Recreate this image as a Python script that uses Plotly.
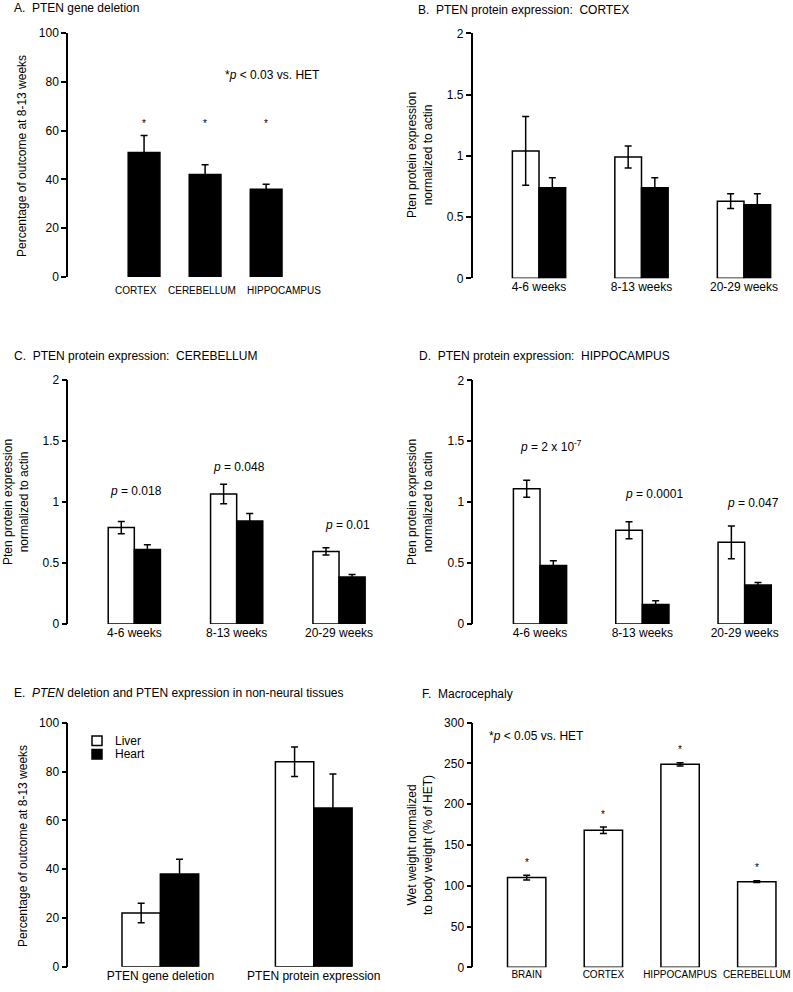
import plotly.graph_objects as go

# ---------------- data ----------------
# A. PTEN gene deletion
a_regions = ["CORTEX", "CEREBELLUM", "HIPPOCAMPUS"]
a_values = [51, 42, 36]
a_errors = [7, 4, 2]

# B-D weeks
weeks = ["4-6 weeks", "8-13 weeks", "20-29 weeks"]

# B. cortex
b_white = [1.04, 0.99, 0.63]
b_white_err = [0.28, 0.09, 0.06]
b_black = [0.74, 0.74, 0.60]
b_black_err = [0.08, 0.08, 0.09]

# C. cerebellum
c_white = [0.79, 1.065, 0.595]
c_white_err = [0.05, 0.08, 0.03]
c_black = [0.61, 0.845, 0.385]
c_black_err = [0.04, 0.06, 0.02]
c_pvals = ["0.018", "0.048", "0.01"]

# D. hippocampus
d_white = [1.11, 0.77, 0.67]
d_white_err = [0.07, 0.07, 0.135]
d_black = [0.48, 0.16, 0.32]
d_black_err = [0.04, 0.03, 0.02]
d_pvals = ["2 x 10<sup>-7</sup>", "0.0001", "0.047"]

# E. non-neural tissues
e_measures = ["PTEN gene deletion", "PTEN protein expression"]
e_liver = [22, 84]
e_liver_err = [4, 6]
e_heart = [38, 65]
e_heart_err = [6, 14]

# F. macrocephaly
f_regions = ["BRAIN", "CORTEX", "HIPPOCAMPUS", "CEREBELLUM"]
f_values = [110, 168, 249, 105]
f_errors = [3, 4, 2, 1]

# ---------------- layout helpers ----------------
W, H = 793, 992
FONT = "Liberation Sans, Arial, Helvetica, sans-serif"
NB = "\u00a0"


def fx(px):
    return px / W


def fy(py):
    return 1 - py / H


fig = go.Figure()


def err(arr):
    return dict(type="data", array=arr, visible=True, color="black",
                thickness=1.5, width=3.5)


def add_bar(x, y, e, xa, ya, width, offset, fill, name=None):
    fig.add_trace(go.Bar(
        x=x, y=y, error_y=err(e), xaxis=xa, yaxis=ya,
        width=width, offset=offset,
        marker=dict(color=fill, line=dict(color="black", width=1.5)),
        name=name, showlegend=False, hoverinfo="x+y"))


# A
add_bar(a_regions, a_values, a_errors, "x", "y", 0.52, -0.26, "black")
# B
add_bar(weeks, b_white, b_white_err, "x2", "y2", 0.26, -0.26, "white")
add_bar(weeks, b_black, b_black_err, "x2", "y2", 0.26, 0.0, "black")
# C
add_bar(weeks, c_white, c_white_err, "x3", "y3", 0.255, -0.255, "white")
add_bar(weeks, c_black, c_black_err, "x3", "y3", 0.255, 0.0, "black")
# D
add_bar(weeks, d_white, d_white_err, "x4", "y4", 0.26, -0.26, "white")
add_bar(weeks, d_black, d_black_err, "x4", "y4", 0.26, 0.0, "black")
# E
add_bar(e_measures, e_liver, e_liver_err, "x5", "y5", 0.25, -0.25, "white", "Liver")
add_bar(e_measures, e_heart, e_heart_err, "x5", "y5", 0.25, 0.0, "black", "Heart")
# F
add_bar(f_regions, f_values, f_errors, "x6", "y6", 0.5, -0.25, "white")

# panel geometry: (x0, x1, ytop, ybottom) in pixels, x range, y range, dtick, xtick size
panels = [
    (68, 340, 33, 277, [-1.246, 3.21], [0, 100], 20, 10),
    (472.7, 790, 33.3, 278.3, [-0.647, 2.449], [0, 2], 0.5, 12),
    (68.3, 390, 380, 624, [-0.645, 2.498], [0, 2], 0.5, 12),
    (473.3, 790, 380.3, 624, [-0.652, 2.443], [0, 2], 0.5, 12),
    (68.3, 390, 722.7, 966.7, [-0.6, 1.497], [0, 100], 20, 12),
    (473.3, 790, 722.7, 967.3, [-0.696, 3.433], [0, 300], 50, 10),
]

layout = dict(
    width=W, height=H, margin=dict(l=0, r=0, t=0, b=0, autoexpand=False),
    paper_bgcolor="white", plot_bgcolor="white",
    font=dict(family=FONT, size=12, color="black"),
    barmode="overlay",
    showlegend=False,
)

for i, (x0, x1, yt, yb, xr, yr, dt, xts) in enumerate(panels, start=1):
    s = "" if i == 1 else str(i)
    layout["xaxis" + s] = dict(
        domain=[fx(x0), fx(x1)], anchor="y" + s, range=xr,
        showline=False, ticks="", showgrid=False, zeroline=False,
        tickfont=dict(size=xts, color="black"), tickangle=0,
        automargin=False, fixedrange=True, type="category",
        ticklabeloverflow="allow")
    layout["yaxis" + s] = dict(
        domain=[fy(yb), fy(yt)], anchor="x" + s, range=yr, dtick=dt,
        showline=True, linecolor="black", linewidth=1.5,
        ticks="outside", ticklen=5, tickwidth=1.5, tickcolor="black",
        showgrid=False, zeroline=False, tickfont=dict(size=12, color="black"),
        automargin=False, fixedrange=True)

# panel A: category names are set as annotations (slightly staggered as in the original)
layout["xaxis"]["showticklabels"] = False

ann = []


def text_at(text, px, py, xanchor="left", size=12, angle=0):
    ann.append(dict(text=text, x=fx(px), y=fy(py), xref="paper", yref="paper",
                    xanchor=xanchor, yanchor="middle", showarrow=False,
                    textangle=angle, font=dict(size=size, color="black")))


# panel titles
text_at("A." + NB + NB + "PTEN gene deletion", 12, 8)
text_at("B." + NB + NB + "PTEN protein expression:" + NB + NB + "CORTEX", 416, 10)
text_at("C." + NB + NB + "PTEN protein expression:" + NB + NB + "CEREBELLUM", 12, 356)
text_at("D." + NB + NB + "PTEN protein expression:" + NB + NB + "HIPPOCAMPUS", 417, 356)
text_at("E." + NB + NB + "<i>PTEN</i> deletion and PTEN expression in non-neural tissues", 12, 693)
text_at("F." + NB + NB + "Macrocephaly", 420, 694)

# y axis titles
text_at("Percentage of outcome at 8-13 weeks", 22, 156, "center", 12, -90)
text_at("Pten protein expression<br>normalized to actin", 420, 155, "center", 12, -90)
text_at("Pten protein expression<br>normalized to actin", 16, 502, "center", 12, -90)
text_at("Pten protein expression<br>normalized to actin", 420, 502, "center", 12, -90)
text_at("Percentage of outcome at 8-13 weeks", 23, 846, "center", 12, -90)
text_at("Wet weight normalized<br>to body weight (% of HET)", 420, 845, "center", 12, -90)

# significance notes
text_at("*<i>p</i> &lt; 0.03 vs. HET", 223, 75)
text_at("*<i>p</i> &lt; 0.05 vs. HET", 487, 736)

# legend for E (Liver / Heart)
text_at("Liver", 113, 741)
text_at("Heart", 113, 754)
shapes = [
    dict(type="rect", xref="paper", yref="paper",
         x0=fx(92), x1=fx(102), y0=fy(745.5), y1=fy(736),
         fillcolor="white", line=dict(color="black", width=1.5)),
    dict(type="rect", xref="paper", yref="paper",
         x0=fx(92), x1=fx(102), y0=fy(759), y1=fy(749.5),
         fillcolor="black", line=dict(color="black", width=1.5)),
]

# panel A category labels
a_label_shift = [-0.13, -0.05, 0.3]
for i, name in enumerate(a_regions):
    ann.append(dict(text=name, x=i + a_label_shift[i], y=fy(290), xref="x", yref="paper",
                    xanchor="center", yanchor="middle", showarrow=False,
                    font=dict(size=10, color="black")))

# stars in A
for i in range(len(a_regions)):
    ann.append(dict(text="*", x=i, y=63, xref="x", yref="y",
                    xanchor="center", yanchor="middle", showarrow=False,
                    font=dict(size=10, color="black")))
# stars in F
for i in range(len(f_regions)):
    ann.append(dict(text="*", x=i, y=f_values[i] + f_errors[i] + 16,
                    xref="x6", yref="y6", xanchor="center", yanchor="middle",
                    showarrow=False, font=dict(size=10, color="black")))

# p-values C
c_pos = [(0.02, 1.09), (0.02, 1.29), (0.08, 0.81)]
for i, pv in enumerate(c_pvals):
    ann.append(dict(text="<i>p</i> = " + pv, x=i + c_pos[i][0], y=c_pos[i][1],
                    xref="x3", yref="y3", xanchor="center", yanchor="middle",
                    showarrow=False, font=dict(size=12, color="black")))
# p-values D
d_pos = [(0.11, 1.46), (0.11, 1.07), (0.08, 0.99)]
for i, pv in enumerate(d_pvals):
    ann.append(dict(text="<i>p</i> = " + pv, x=i + d_pos[i][0], y=d_pos[i][1],
                    xref="x4", yref="y4", xanchor="center", yanchor="middle",
                    showarrow=False, font=dict(size=12, color="black")))

layout["annotations"] = ann
layout["shapes"] = shapes
fig.update_layout(**layout)

fig.write_html(
    "out.html",
    config={"displayModeBar": False},
    post_script="document.body.style.margin='0';document.body.style.overflow='hidden';",
)
